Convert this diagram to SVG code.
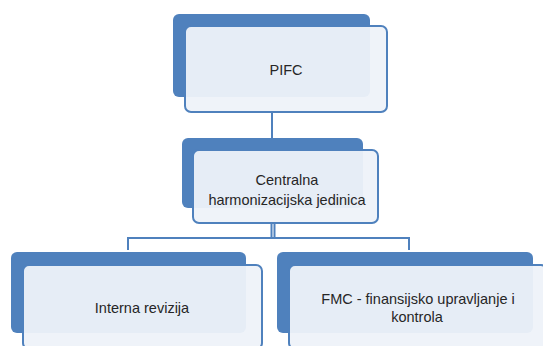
<svg xmlns="http://www.w3.org/2000/svg" width="543" height="346" viewBox="0 0 543 346">
<style>
.back{fill:#4f81bd}
.front{fill:#eef2f9;fill-opacity:0.95;stroke:#4f81bd;stroke-width:2}
.t{font-family:"Liberation Sans",Arial,sans-serif;font-size:14.5px;fill:#262626;text-anchor:middle}
.c{fill:none;stroke:#4f81bd;stroke-width:2}
</style>
<rect width="543" height="346" fill="#fff"/>
<g id="connectors">
<line class="c" x1="272" y1="112" x2="272" y2="138"/>
<line class="c" x1="271.5" y1="223" x2="271.5" y2="238" stroke-width="1.5"/>
<line class="c" x1="274.5" y1="223" x2="274.5" y2="238" stroke-width="1.5"/>
<polyline class="c" points="128,250 128,238 409,238 409,250"/>
</g>
<g id="node-pifc">
<rect class="back" x="173" y="14" width="197" height="83" rx="6"/>
<rect class="front" x="185" y="26" width="202" height="86" rx="6"/>
<text class="t" x="286" y="75">PIFC</text>
</g>
<g id="node-chj">
<rect class="back" x="182" y="138" width="181" height="70" rx="6"/>
<rect class="front" x="193" y="150" width="185" height="73" rx="6"/>
<text class="t" x="287" y="185">Centralna</text>
<text class="t" x="287" y="205">harmonizacijska jedinica</text>
</g>
<g id="node-ir">
<rect class="back" x="11" y="252" width="235" height="81" rx="6"/>
<rect class="front" x="23" y="265" width="239" height="84" rx="6"/>
<text class="t" x="142" y="313">Interna revizija</text>
</g>
<g id="node-fmc">
<rect class="back" x="277" y="252" width="256" height="81" rx="6"/>
<rect class="front" x="289" y="265" width="258" height="84" rx="6"/>
<text class="t" x="418" y="304">FMC - finansijsko upravljanje i</text>
<text class="t" x="417" y="322">kontrola</text>
</g>
</svg>
